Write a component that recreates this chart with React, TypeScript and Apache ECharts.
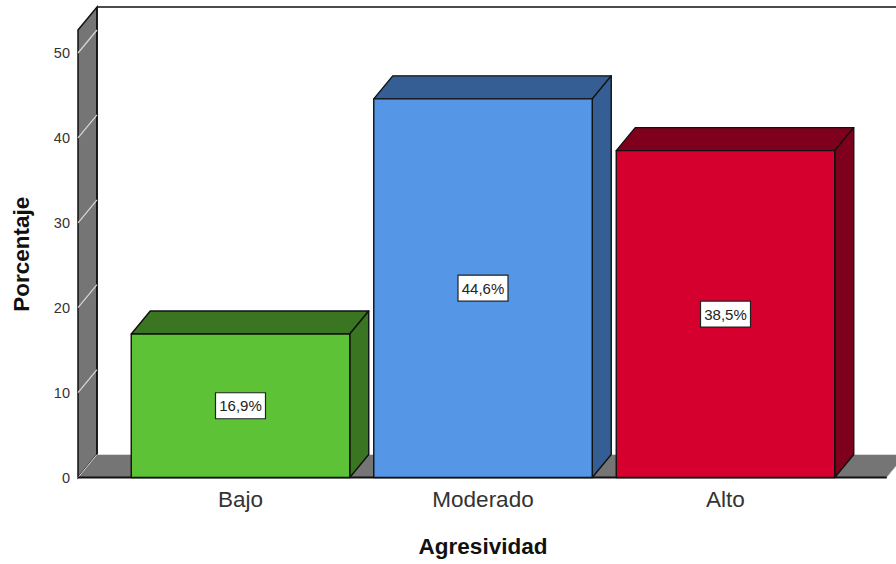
import React, { useEffect, useRef } from "react";
import * as echarts from "echarts";

const categories = ["Bajo", "Moderado", "Alto"];
const percentages = [16.9, 44.6, 38.5];
const faceColors = ["#5dc236", "#5596e6", "#d6002f"];
const darkColors = ["#3a7522", "#355f94", "#7f001c"];
const yTicks = [0, 10, 20, 30, 40, 50];

const FONT = "'Liberation Sans', Arial, sans-serif";
const DX = 19;
const DY = 23;
const BAR_WIDTH = 218.5;
const EDGE = "#111";
const WALL = "#757575";
const HALO = "#d8d8d8";

function renderFrame(params: any, api: any) {
  const tick = api.value(1);
  const y = api.coord([0, tick])[1];
  const band = api.size([1, 0])[0];
  const x0 = api.coord([0, 0])[0] - band / 2;
  const left = x0 - 41.25;
  const right = x0 + band * 3 + 40;
  const yBase = api.coord([0, 0])[1];
  const yTop = api.coord([0, 50])[1];
  const children: any[] = [];
  if (params.dataIndex === 0) {
    children.push(
      { type: "polygon", shape: { points: [[left, yTop - DY], [left + DX, yTop - 2 * DY], [left + DX, yBase - DY], [left, yBase]] }, style: { fill: WALL, stroke: EDGE, lineWidth: 1.5 } },
      { type: "polygon", shape: { points: [[left, yBase], [left + DX, yBase - DY], [right + DX, yBase - DY], [right, yBase]] }, style: { fill: WALL, stroke: HALO, lineWidth: 1 } },
      { type: "line", shape: { x1: left + DX, y1: yTop - 2 * DY, x2: 896, y2: yTop - 2 * DY }, style: { stroke: EDGE, lineWidth: 1.5 } },
      { type: "line", shape: { x1: left + DX, y1: yTop - 2 * DY, x2: left + DX, y2: yBase - DY }, style: { stroke: EDGE, lineWidth: 1.5 } },
      { type: "line", shape: { x1: left, y1: yBase, x2: right, y2: yBase }, style: { stroke: EDGE, lineWidth: 2 } },
    );
  }
  if (tick > 0) {
    children.push({ type: "line", shape: { x1: left, y1: y, x2: left + DX, y2: y - DY }, style: { stroke: HALO, lineWidth: 1.2 } });
  }
  return { type: "group", children };
}

function renderBar(params: any, api: any) {
  const i = api.value(0);
  const v = api.value(1);
  const [cx, yTop] = api.coord([i, v]);
  const yBase = api.coord([i, 0])[1];
  const l = cx - BAR_WIDTH / 2;
  const r = cx + BAR_WIDTH / 2;
  const cy = (yTop + yBase) / 2;
  const border = { stroke: EDGE, lineWidth: 1.4, lineJoin: "round" };
  const label = v.toFixed(1).replace(".", ",") + "%";
  return {
    type: "group",
    children: [
      { type: "polygon", shape: { points: [[l, yTop], [l + DX, yTop - DY], [r + DX, yTop - DY], [r, yTop]] }, style: { fill: darkColors[i], ...border } },
      { type: "polygon", shape: { points: [[r, yTop], [r + DX, yTop - DY], [r + DX, yBase - DY], [r, yBase]] }, style: { fill: darkColors[i], ...border } },
      { type: "rect", shape: { x: l, y: yTop, width: BAR_WIDTH, height: yBase - yTop }, style: { fill: faceColors[i], ...border } },
      { type: "rect", shape: { x: cx - 25, y: cy - 13, width: 50, height: 26 }, style: { fill: "#fff", stroke: "#222", lineWidth: 1.2 } },
      { type: "text", x: cx, y: cy, style: { text: label, fill: "#222", font: `15px ${FONT}`, align: "center", verticalAlign: "middle" } },
    ],
  };
}

export default function App() {
  const ref = useRef<HTMLDivElement>(null);
  useEffect(() => {
    const chart = echarts.init(ref.current!, undefined, { renderer: "svg" });
    chart.setOption({
      animation: false,
      backgroundColor: "#fff",
      grid: { left: 119.25, top: 53, width: 727.5, height: 424.5, outerBoundsMode: "none" },
      xAxis: {
        type: "category",
        data: categories,
        axisLine: { show: false },
        axisTick: { show: false },
        axisLabel: { color: "#333", fontFamily: FONT, fontSize: 22.5, margin: 10 },
        name: "Agresividad",
        nameLocation: "middle",
        nameGap: 57,
        nameTextStyle: { color: "#111", fontFamily: FONT, fontSize: 22.5, fontWeight: "bold" },
      },
      yAxis: {
        type: "value",
        min: 0,
        max: 50,
        interval: 10,
        offset: 41.25,
        splitLine: { show: false },
        axisLine: { show: false },
        axisTick: { show: false },
        axisLabel: { color: "#333", fontFamily: FONT, fontSize: 14.5, margin: 8, padding: [2, 0, 0, 0] },
        name: "Porcentaje",
        nameLocation: "middle",
        nameGap: 45,
        nameTextStyle: { color: "#111", fontFamily: FONT, fontSize: 22.5, fontWeight: "bold", padding: [0, 0, 0, 22] },
      },
      series: [
        { type: "custom", z: 1, silent: true, renderItem: renderFrame, encode: { x: 0, y: 1 }, data: yTicks.map((t) => [0, t]) },
        { type: "custom", z: 2, silent: true, renderItem: renderBar, encode: { x: 0, y: 1 }, data: percentages.map((p, i) => [i, p]) },
      ],
    });
    return () => chart.dispose();
  }, []);
  return <div ref={ref} style={{ position: "absolute", left: 0, top: 0, width: 896, height: 564 }} />;
}
